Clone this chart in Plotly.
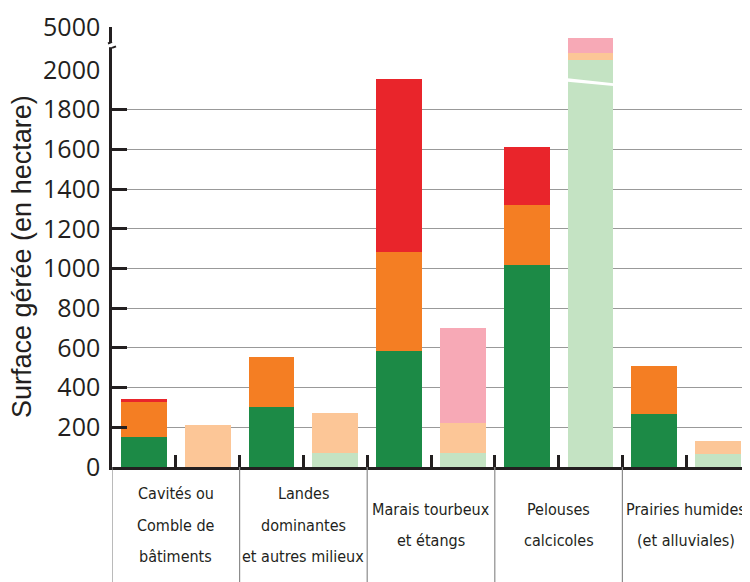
import plotly.graph_objects as go

# ---------------- data ----------------
groups = [["Cavités ou", "Comble de", "bâtiments"],
          ["Landes", "dominantes", "et autres milieux"],
          ["Marais tourbeux", "et étangs"],
          ["Pelouses", "calcicoles"],
          ["Prairies humides", "(et alluviales)"]]
# 10 bar slots: two bars per group
dark_green   = [150, 0, 300, 0, 585, 0, 1020, 0, 265, 0]
orange       = [180, 0, 255, 0, 500, 0, 300, 0, 245, 0]
red          = [12, 0, 0, 0, 870, 0, 290, 0, 0, 0]
light_green  = [0, 0, 0, 70, 0, 70, 0, 2700, 0, 68]
light_orange = [0, 210, 0, 200, 0, 150, 0, 500, 0, 62]
pink         = [0, 0, 0, 0, 0, 480, 0, 1000, 0, 0]
y_ticks_low = [0, 200, 400, 600, 800, 1000, 1200, 1400, 1600, 1800, 2000]
y_ticks_high = [5000]

series = [(dark_green, "#1c8a46"), (orange, "#f47e23"), (red, "#e9252b"),
          (light_green, "#c4e3c3"), (light_orange, "#fcc697"), (pink, "#f7a9b6")]

# page has an 8px body margin: figure is shifted by 8px
OFF = 8
W, H = 750 - OFF, 582 - OFF
PLOT_L, PLOT_T, PLOT_B = 112, 27, 467   # page pixel coordinates of plot area
L, T = PLOT_L - OFF, PLOT_T - OFF
B = H - (PLOT_B - OFF)
R = 0
plot_h = PLOT_B - PLOT_T
plot_w = W - L - R
split = (PLOT_B - 70) / plot_h  # lower domain fraction

xs = list(range(len(dark_green)))
ink = "#231f20"

fig = go.Figure()
for yax in ["y", "y2"]:
    for vals, col in series:
        fig.add_trace(go.Bar(x=xs, y=vals, marker=dict(color=col, line=dict(width=0)),
                             width=0.72, showlegend=False, yaxis=yax, xaxis="x",
                             hoverinfo="skip"))

tick_font = dict(family="Open Sans, Noto Sans, sans-serif", size=25, color=ink)

fig.update_layout(
    width=W, height=H, margin=dict(l=L, r=R, t=T, b=B),
    paper_bgcolor="white", plot_bgcolor="white",
    barmode="stack", bargap=0,
    xaxis=dict(range=[-0.5, 9.5], tickmode="array",
               tickvals=[i - 0.5 for i in range(11)], ticks="inside", ticklen=12,
               tickwidth=2.5, tickcolor=ink, showticklabels=False, showgrid=False,
               zeroline=False, showline=True, linecolor=ink, linewidth=3, anchor="y"),
    yaxis=dict(domain=[0, split], range=[0, 2000], tickmode="array", tickvals=y_ticks_low,
               ticks="inside", ticklen=15, tickwidth=2.5, tickcolor=ink,
               showgrid=True, gridcolor="#999999", gridwidth=1.3, zeroline=False,
               showline=True, linecolor=ink, linewidth=2.5, tickfont=tick_font,
               ticklabelstandoff=4, anchor="x"),
    yaxis2=dict(domain=[split, 1], range=[2000, 5000], tickmode="array", tickvals=y_ticks_high,
                ticks="", showgrid=True, gridcolor="#999999", gridwidth=1.3, zeroline=False,
                showline=True, linecolor=ink, linewidth=2.5, tickfont=tick_font,
                ticklabelstandoff=4, anchor="x"),
)

shapes = []
# group separators below the axis
for g in range(len(groups)):
    xg = 2 * g - 0.5
    shapes.append(dict(type="line", xref="x", yref="paper", x0=xg, x1=xg, y0=0,
                       y1=-B / plot_h, line=dict(color="#8c8c8c", width=1.2)))
# white break across the tall bar (Pelouses, second bar)
shapes.append(dict(type="path", xref="x", yref="y",
                   path="M 6.64 1958 L 7.36 1933 L 7.36 1919 L 6.64 1941 Z",
                   fillcolor="white", line=dict(width=0), layer="above"))
# axis break on the y axis line
px = 1 / plot_w
shapes.append(dict(type="rect", xref="paper", yref="y2", x0=-6 * px, x1=6 * px,
                   y0=3590, y1=3900, fillcolor="white", line=dict(width=0), layer="above"))
shapes.append(dict(type="line", xref="paper", yref="y2", x0=0, x1=-4 * px,
                   y0=3960, y1=3850, line=dict(color=ink, width=2)))
shapes.append(dict(type="line", xref="paper", yref="y2", x0=0, x1=4 * px,
                   y0=3540, y1=3650, line=dict(color=ink, width=2)))
fig.update_layout(shapes=shapes)

annotations = []
label_font = dict(family="Liberation Sans Narrow, Arial Narrow, DejaVu Sans Condensed, sans-serif",
                  size=16, color=ink)
center_px = 525
spacing = 31.5
for g, lines in enumerate(groups):
    n = len(lines)
    for i, line in enumerate(lines):
        ypx = center_px + (i - (n - 1) / 2) * spacing
        annotations.append(dict(text=line, x=2 * g + 0.5, xref="x", y=(PLOT_B - ypx) / plot_h,
                                yref="paper", showarrow=False, xanchor="center",
                                yanchor="middle", font=label_font))
annotations.append(dict(text="Surface gérée (en hectare)", textangle=-90,
                        x=(22 - PLOT_L) / plot_w, xref="paper", y=(PLOT_B - 257) / plot_h,
                        yref="paper", showarrow=False, xanchor="center", yanchor="middle",
                        font=dict(family="Liberation Sans, Arial, sans-serif", size=27, color=ink)))
fig.update_layout(annotations=annotations)

fig.write_html("out.html")
